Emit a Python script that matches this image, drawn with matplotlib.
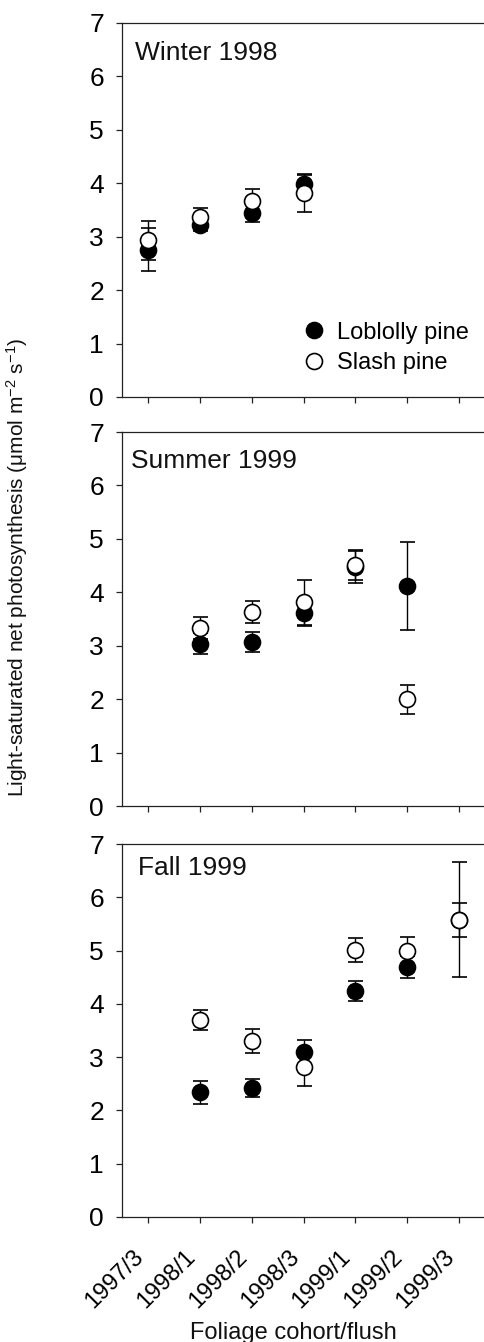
import numpy as np
import matplotlib
matplotlib.use("Agg")
from matplotlib import pyplot as plt

plt.rcParams['font.family'] = ['Liberation Sans', 'DejaVu Sans']
plt.rcParams['mathtext.default'] = 'regular'

nan = np.nan

cohorts = ["1997/3", "1998/1", "1998/2", "1998/3", "1999/1", "1999/2", "1999/3"]
seasons = ["Winter 1998", "Summer 1999", "Fall 1999"]

# loblolly pine means and error bars, one row per season
lob_mean = [
    [2.76, 3.21, 3.44, 3.99, nan, nan, nan],
    [nan, 3.04, 3.07, 3.61, 4.48, 4.12, nan],
    [nan, 2.34, 2.42, 3.09, 4.24, 4.69, 5.58],
]
lob_err = [
    [0.41, 0.11, 0.16, 0.18, nan, nan, nan],
    [nan, 0.19, 0.19, 0.25, 0.30, 0.82, nan],
    [nan, 0.21, 0.17, 0.23, 0.18, 0.20, 1.08],
]

# slash pine
slash_mean = [
    [2.93, 3.36, 3.66, 3.81, nan, nan, nan],
    [nan, 3.33, 3.63, 3.81, 4.51, 2.00, nan],
    [nan, 3.70, 3.30, 2.81, 5.01, 4.99, 5.57],
]
slash_err = [
    [0.36, 0.18, 0.24, 0.35, nan, nan, nan],
    [nan, 0.21, 0.20, 0.42, 0.28, 0.27, nan],
    [nan, 0.19, 0.22, 0.35, 0.22, 0.27, 0.32],
]

W, H = 485, 1342
fig = plt.figure(figsize=(W / 100, H / 100), dpi=100)

# panel boxes in pixels (top, bottom)
boxes = [(23, 397), (432, 806), (844, 1217)]
title_pos = [(0.036, 0.901), (0.025, 0.904), (0.044, 0.917)]
left_px = 122

x = np.arange(len(cohorts))
axes = []
handles = []
for i, (top, bot) in enumerate(boxes):
    ax = fig.add_axes([left_px / W, 1 - bot / H, 1 - left_px / W, (bot - top) / H])
    axes.append(ax)
    eb1 = ax.errorbar(x, lob_mean[i], yerr=lob_err[i], fmt='o', color='black',
                      mfc='black', mec='black', ms=11.5, mew=1.2,
                      elinewidth=1.0, capsize=5.4, capthick=1.0,
                      label="Loblolly pine")
    eb2 = ax.errorbar(x, slash_mean[i], yerr=slash_err[i], fmt='o', color='black',
                      mfc='white', mec='black', ms=11.5, mew=1.2,
                      elinewidth=1.0, capsize=5.4, capthick=1.0,
                      label="Slash pine")
    if i == 0:
        handles = [eb1[0], eb2[0]]
    ax.set_xlim(-0.5, 6.5)
    ax.set_ylim(0, 7)
    ax.set_yticks(range(0, 8))
    ax.set_xticks(x)
    ax.spines['right'].set_visible(False)
    for s in ['left', 'bottom', 'top']:
        ax.spines[s].set_linewidth(0.9)
        ax.spines[s].set_color('#222222')
    ax.tick_params(axis='y', direction='out', length=4, width=0.9,
                   labelsize=19, pad=9, color='#222222')
    ax.tick_params(axis='x', direction='out', length=4.5, width=0.9,
                   color='#222222')
    ax.text(title_pos[i][0], title_pos[i][1], seasons[i], transform=ax.transAxes,
            fontsize=19, va='baseline', ha='left', color='#111111')
    if i < 2:
        ax.tick_params(axis='x', labelbottom=False)
    else:
        ax.set_xticklabels(cohorts, rotation=45, ha='right', va='top',
                           fontsize=17)
        ax.tick_params(axis='x', pad=16)

axes[0].legend(handles, ["Loblolly pine", "Slash pine"],
               loc='center left', bbox_to_anchor=(0.496, 0.132),
               frameon=False, fontsize=17, handlelength=1.0,
               handletextpad=0.5, labelspacing=0.35, borderpad=0,
               borderaxespad=0, numpoints=1)

fig.text(17 / W, 1 - 567 / H,
         r"Light-saturated net photosynthesis (μmol m$^{-2}$ s$^{-1}$)",
         rotation=90, ha='center', va='center', fontsize=15, color='#111111')
fig.text(293 / W, 1 - 1339 / H, "Foliage cohort/flush", ha='center',
         va='baseline', fontsize=17, color='#111111')

plt.savefig("out.png", dpi=100)
